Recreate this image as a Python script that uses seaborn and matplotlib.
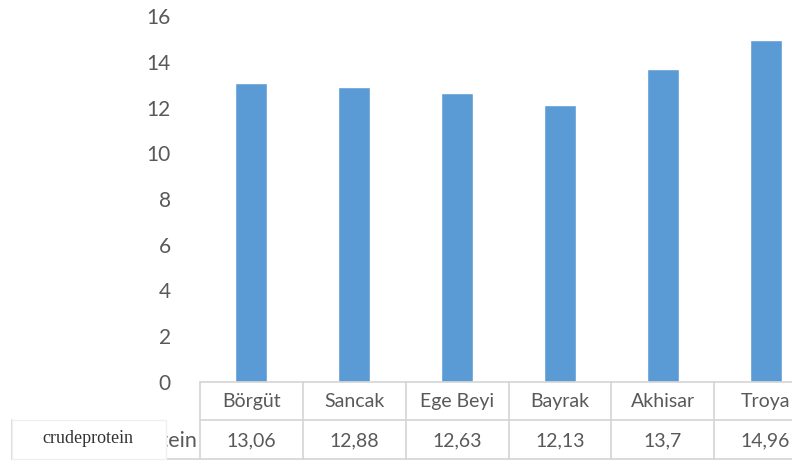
import matplotlib
matplotlib.use("Agg")
import matplotlib.pyplot as plt
import seaborn as sns
import pandas as pd
from matplotlib.patches import Rectangle
from matplotlib.lines import Line2D

categories = ["Börgüt", "Sancak", "Ege Beyi", "Bayrak", "Akhisar", "Troya"]
crude_protein = [13.06, 12.88, 12.63, 12.13, 13.7, 14.96]
y_ticks = [0, 2, 4, 6, 8, 10, 12, 14, 16]
series_name = "crudeprotein"

df = pd.DataFrame({"variety": categories, "value": crude_protein})

sns.set_theme(style="white")
plt.rcParams["font.family"] = ["Lato", "DejaVu Sans"]

W, H = 792, 461
fig = plt.figure(figsize=(W / 100, H / 100), dpi=100)

# Axes extends past the right edge so the last column is cut off
left_px, right_px = 200, 817
bottom_px, top_px = 382, 16
ax = fig.add_axes([left_px / W, (H - bottom_px) / H,
                   (right_px - left_px) / W, (bottom_px - top_px) / H])

sns.barplot(data=df, x="variety", y="value", color="#5B9BD5",
            width=0.31, saturation=1, ax=ax, zorder=3)

ax.set_ylim(0, 16)
ax.set_xlim(-0.5, len(categories) - 0.5)
ax.set_yticks(y_ticks)
ax.set_yticklabels([str(t) for t in y_ticks])
ax.set_xlabel("")
ax.set_ylabel("")
for s in ax.spines.values():
    s.set_visible(False)

text_gray = "#595959"
ax.tick_params(axis="y", length=0, pad=21, labelsize=15, labelcolor=text_gray)
ax.tick_params(axis="x", length=0, pad=8, labelsize=14, labelcolor=text_gray)


def px(x, y):
    """Pixel position (from top-left) to figure fraction."""
    return x / W, (H - y) / H


line_col = "#d4d4d4"
row1_y, row2_y, row3_y = 382, 420, 459


def hline(x0, x1, y):
    (a, b), (c, d) = px(x0, y), px(x1, y)
    fig.add_artist(Line2D([a, c], [b, d], color=line_col, lw=1.2, zorder=1))


def vline(x, y0, y1):
    (a, b), (c, d) = px(x, y0), px(x, y1)
    fig.add_artist(Line2D([a, c], [b, d], color=line_col, lw=1.2, zorder=1))


# data table grid beneath the plot
hline(left_px, W, row1_y)
hline(left_px, W, row2_y)
hline(12, W, row3_y)
col_w = (right_px - left_px) / len(categories)
for i in range(len(categories) + 1):
    x = left_px + i * col_w
    if x <= W:
        vline(x, row1_y, row3_y)

# value row, one cell per category column
for i, v in enumerate(crude_protein):
    label = f"{v:g}".replace(".", ",")
    cx = left_px + (i + 0.5) * col_w
    fx, fy = px(cx, (row2_y + row3_y) / 2 + 1)
    fig.text(fx, fy, label, ha="center", va="center", fontsize=14,
             color=text_gray)

# row header of the table, partly hidden by the text box
fx, fy = px(197, (row2_y + row3_y) / 2 + 1)
fig.text(fx, fy, series_name, ha="right", va="center", fontsize=15.5,
         color=text_gray, zorder=2)

# text box laid over the row header
bx0, by0 = px(12, row3_y)
bx1, by1 = px(166, row2_y)
fig.add_artist(Rectangle((bx0, by0), bx1 - bx0, by1 - by0,
                         transform=fig.transFigure, facecolor="white",
                         edgecolor="#f0f0f0", lw=1.0, zorder=5))
vline(12, row2_y, row3_y)
fx, fy = px(88, (row2_y + row3_y) / 2 - 1)
fig.text(fx, fy, series_name, ha="center", va="center", fontsize=13,
         family=["Liberation Serif", "DejaVu Serif"], color="#333333",
         zorder=6)

fig.savefig("out.png", dpi=100, facecolor="white")
